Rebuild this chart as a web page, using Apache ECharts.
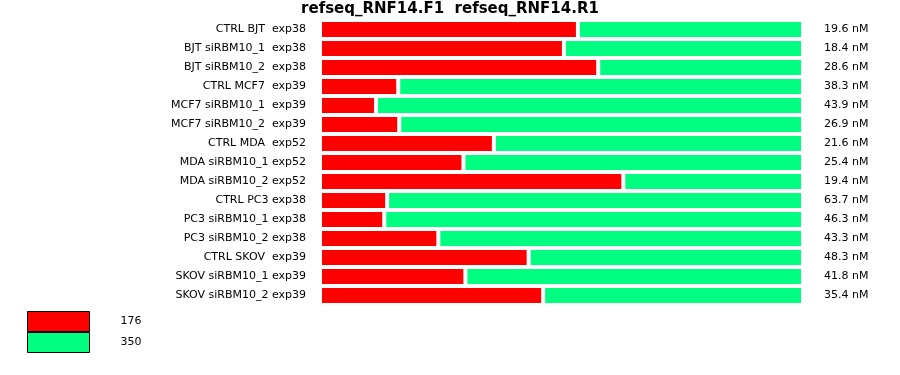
<!DOCTYPE html>
<html>
<head>
<meta charset="utf-8">
<script src="https://cdn.jsdelivr.net/npm/echarts@6/dist/echarts.min.js"></script>
<style>html,body{margin:0;padding:0;background:#fff}#c{width:900px;height:375px}</style>
</head>
<body>
<div id="c"></div>
<script>
const titleText = 'refseq_RNF14.F1  refseq_RNF14.R1';
const categories = [
  'CTRL BJT  exp38', 'BJT siRBM10_1  exp38', 'BJT siRBM10_2  exp38',
  'CTRL MCF7  exp39', 'MCF7 siRBM10_1  exp39', 'MCF7 siRBM10_2  exp39',
  'CTRL MDA  exp52', 'MDA siRBM10_1 exp52', 'MDA siRBM10_2 exp52',
  'CTRL PC3 exp38', 'PC3 siRBM10_1 exp38', 'PC3 siRBM10_2 exp38',
  'CTRL SKOV  exp39', 'SKOV siRBM10_1 exp39', 'SKOV siRBM10_2 exp39'
];
const concLabels = [
  '19.6 nM', '18.4 nM', '28.6 nM', '38.3 nM', '43.9 nM', '26.9 nM', '21.6 nM',
  '25.4 nM', '19.4 nM', '63.7 nM', '46.3 nM', '43.3 nM', '48.3 nM', '41.8 nM', '35.4 nM'
];
const seriesNames = ['176', '350'];
const red176 = [53.4, 50.5, 57.6, 16.2, 11.6, 16.4, 36.0, 29.7, 62.8, 13.9, 13.3, 24.5, 43.2, 30.1, 46.2];
const green350 = [46.6, 49.5, 42.4, 83.8, 88.4, 83.6, 64.0, 70.3, 37.2, 86.1, 86.7, 75.5, 56.8, 69.9, 53.8];

const font = 'Verdana, "DejaVu Sans", sans-serif';
const chart = echarts.init(document.getElementById('c'), null, {renderer: 'canvas'});
chart.setOption({
  animation: false,
  backgroundColor: '#fff',
  title: {
    text: titleText, left: 'center', top: -3,
    textStyle: {fontFamily: font, fontSize: 15, fontWeight: 'bold', color: '#000'}
  },
  legend: {
    orient: 'vertical', left: 27, top: 311,
    itemWidth: 62, itemHeight: 20, itemGap: 0,
    icon: 'rect',
    itemStyle: {borderColor: '#000', borderWidth: 1},
    textStyle: {fontFamily: font, fontSize: 11, color: '#000', padding: [0, 0, 0, 26]},
    padding: 0,
    data: seriesNames
  },
  grid: {left: 320, top: 20, width: 483, height: 285, containLabel: false},
  xAxis: {type: 'value', min: 0, max: 100, show: false},
  yAxis: [{
    type: 'category', inverse: true, data: categories,
    axisLine: {show: false}, axisTick: {show: false}, splitLine: {show: false},
    axisLabel: {margin: 14, fontFamily: font, fontSize: 11, color: '#000'}
  }, {
    type: 'category', inverse: true, data: concLabels, position: 'right',
    axisLine: {show: false}, axisTick: {show: false}, splitLine: {show: false},
    axisLabel: {margin: 21, fontFamily: font, fontSize: 11, color: '#000', align: 'left'}
  }],
  series: [{
    name: seriesNames[0], type: 'bar', stack: 's', data: red176,
    barWidth: 19, barCategoryGap: 0,
    itemStyle: {color: '#ff0000', borderColor: '#fff', borderWidth: 2, borderJoin: 'miter'}
  }, {
    name: seriesNames[1], type: 'bar', stack: 's', data: green350,
    barWidth: 19, barCategoryGap: 0,
    itemStyle: {color: '#00ff80', borderColor: '#fff', borderWidth: 2, borderJoin: 'miter'}
  }]
});
</script>
</body>
</html>
